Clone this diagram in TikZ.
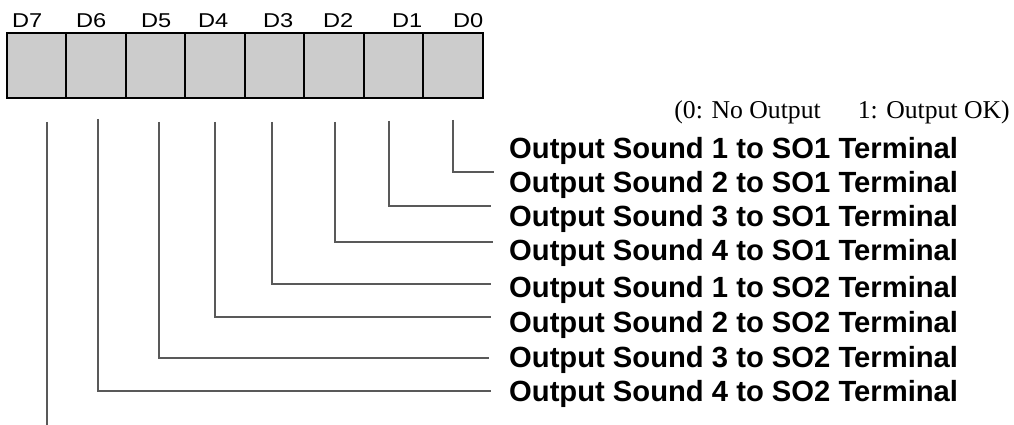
\documentclass[tikz,border=0pt]{standalone}
\usepackage{graphicx}
\usepackage{fontspec}
\setmainfont{Liberation Serif}
\newfontfamily\arialfont{Liberation Sans}
\newcommand{\widelbl}[1]{\scalebox{1.18}[1]{#1}}
\begin{document}
\begin{tikzpicture}[x=1pt,y=-1pt,
  cell/.style={draw=black,line width=1.6pt,fill=black!20,minimum width=59.5pt,minimum height=65pt,inner sep=0pt,outer sep=0pt,anchor=north west},
  bitlabel/.style={font=\arialfont\fontsize{20}{24}\selectfont,anchor=base west,inner sep=0pt},
  outtext/.style={font=\arialfont\bfseries\fontsize{29.2}{34}\selectfont,anchor=base west,inner sep=0pt},
  conn/.style={draw=black!65,line width=1.1pt}]
\useasboundingbox (0,0) rectangle (1014,425);
% register cells
\foreach \i/\b in {0/7,1/6,2/5,3/4,4/3,5/2,6/1,7/0}{
  \node[cell] (c\b) at ({6.7+59.5*\i},33.3) {};
}
% bit labels
\node[bitlabel] (l7) at (12,28) {\widelbl{D7}};
\node[bitlabel] (l6) at (76,28) {\widelbl{D6}};
\node[bitlabel] (l5) at (141,28) {\widelbl{D5}};
\node[bitlabel] (l4) at (198,28) {\widelbl{D4}};
\node[bitlabel] (l3) at (263,28) {\widelbl{D3}};
\node[bitlabel] (l2) at (323,28) {\widelbl{D2}};
\node[bitlabel] (l1) at (392,28) {\widelbl{D1}};
\node[bitlabel] (l0) at (453,28) {\widelbl{D0}};
% legend
\node[font=\fontsize{25.7}{28}\selectfont,anchor=base east,inner sep=0pt] (legend) at (1010,118) {(0: No Output\hspace*{37pt}1: Output OK)};
% output texts
\node[outtext] (o0) at (509,158) {Output Sound 1 to SO1 Terminal};
\node[outtext] (o1) at (509,192) {Output Sound 2 to SO1 Terminal};
\node[outtext] (o2) at (509,226) {Output Sound 3 to SO1 Terminal};
\node[outtext] (o3) at (509,260) {Output Sound 4 to SO1 Terminal};
\node[outtext] (o4) at (509,297) {Output Sound 1 to SO2 Terminal};
\node[outtext] (o5) at (509,332) {Output Sound 2 to SO2 Terminal};
\node[outtext] (o6) at (509,367) {Output Sound 3 to SO2 Terminal};
\node[outtext] (o7) at (509,401) {Output Sound 4 to SO2 Terminal};
% connector coordinates
\coordinate (t0) at (453,120); \coordinate (e0) at (494,172);
\coordinate (t1) at (389,121); \coordinate (e1) at (491,206);
\coordinate (t2) at (335,122); \coordinate (e2) at (493,242);
\coordinate (t3) at (272,122); \coordinate (e3) at (491,284);
\coordinate (t4) at (215,122); \coordinate (e4) at (491,317);
\coordinate (t5) at (159,122); \coordinate (e5) at (489,358);
\coordinate (t6) at (98,119);  \coordinate (e6) at (491,391);
\coordinate (t7) at (47,122);  \coordinate (e7) at (47,425);
\foreach \k in {0,...,6}{ \draw[conn] (t\k) |- (e\k); }
\draw[conn] (t7) -- (e7);
\end{tikzpicture}
\end{document}
